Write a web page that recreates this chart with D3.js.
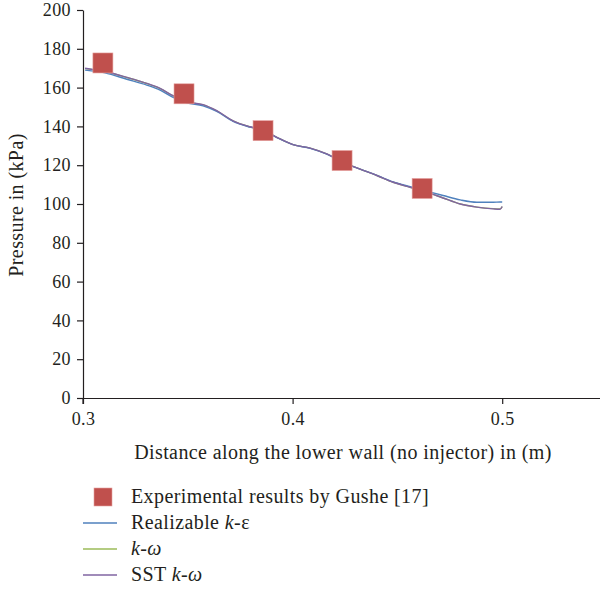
<!DOCTYPE html>
<html>
<head>
<meta charset="utf-8">
<script src="https://cdn.jsdelivr.net/npm/d3@7"></script>
<style>
  body { margin: 0; background: #fff; }
  svg text { font-family: "Liberation Serif", "DejaVu Serif", serif; fill: #231f20; letter-spacing: 0.4px; }
</style>
</head>
<body>
<svg id="chart" width="600" height="592"></svg>
<script>
  // experimental points
  var expX = [0.3095, 0.3482, 0.3859, 0.4236, 0.4618];
  var expY = [172.7, 156.8, 137.8, 122.4, 108.0];

  // simulation curves (shared x samples)
  var simX = [0.301, 0.3105, 0.3209, 0.3304, 0.3368, 0.343, 0.3495, 0.3573, 0.3638, 0.3716, 0.3797, 0.3859,
    0.3925, 0.4002, 0.4084, 0.4163, 0.4241, 0.4322, 0.4402, 0.448, 0.4561, 0.4641, 0.4718, 0.48, 0.4879, 0.4957, 0.499, 0.5];
  var realizableKE = [169.0, 167.6, 164.3, 161.3, 158.7, 155.0, 152.2, 150.6, 147.7, 142.6, 139.6, 137.9,
    134.2, 130.6, 128.7, 125.7, 121.5, 118.0, 114.8, 111.4, 108.9, 106.6, 104.4, 102.1, 100.9, 100.9, 101.0, 101.0];
  var kOmega = [169.8, 168.2, 165.2, 162.1, 159.5, 155.7, 152.6, 151.1, 148.0, 142.8, 139.7, 138.0,
    134.3, 130.6, 128.8, 125.8, 121.5, 118.0, 114.7, 111.2, 108.6, 106.1, 103.1, 100.0, 98.4, 97.6, 97.5, 98.7];
  var sstKOmega = [170.0, 168.3, 165.3, 162.2, 159.6, 155.8, 152.7, 151.2, 148.1, 142.9, 139.8, 138.1,
    134.4, 130.6, 128.8, 125.8, 121.5, 118.0, 114.7, 111.2, 108.6, 106.1, 103.1, 100.0, 98.4, 97.5, 97.3, 98.7];

  var xTicks = [0.3, 0.4, 0.5];
  var yTicks = [0, 20, 40, 60, 80, 100, 120, 140, 160, 180, 200];

  var legendLabels = ["Experimental results by Gushe [17]", "Realizable k-ε", "k-ω", "SST k-ω"];
  var colors = { exp: "#c0504d", ke: "#4f81bd", kw: "#9bbb59", sst: "#8064a2" };

  var fs = "20px";
  var tickFs = "18px";
  var ff = "'Liberation Serif', 'DejaVu Serif', serif";
  var svg = d3.select("#chart");

  var x = d3.scaleLinear().domain([0.3, 0.55]).range([83, 607]);
  var y = d3.scaleLinear().domain([0, 200]).range([398, 10]);

  // axes
  var xAxis = svg.append("g").attr("transform", "translate(0,398)")
    .call(d3.axisBottom(x).tickValues(xTicks).tickFormat(d3.format(".1f")).tickSize(6).tickSizeOuter(0));
  var yAxis = svg.append("g").attr("transform", "translate(83,0)")
    .call(d3.axisLeft(y).tickValues(yTicks).tickSize(6).tickSizeOuter(0));

  [xAxis, yAxis].forEach(function(a) {
    a.attr("font-family", ff).attr("font-size", tickFs);
    a.select(".domain").attr("stroke", "#231f20").attr("stroke-width", 1.2);
    a.selectAll(".tick line").attr("stroke", "#231f20").attr("stroke-width", 1.2);
    a.selectAll("text").style("font-family", ff).style("font-size", tickFs).attr("fill", "#231f20");
  });
  xAxis.selectAll("text").attr("y", 12).attr("dy", "0.85em");
  yAxis.selectAll("text").attr("x", -12);
  // extend y axis a little below zero like the original
  yAxis.append("line").attr("x1", 0).attr("x2", 0).attr("y1", 398).attr("y2", 404)
    .attr("stroke", "#231f20").attr("stroke-width", 1.2);

  // axis titles
  svg.append("text").attr("x", 343).attr("y", 459).attr("text-anchor", "middle")
    .style("font-size", fs).text("Distance along the lower wall (no injector) in (m)");
  svg.append("text").attr("transform", "translate(23,205) rotate(-90)").attr("text-anchor", "middle")
    .style("font-size", fs).text("Pressure in (kPa)");

  // lines
  var line = function(vals) {
    return d3.line().x(function(d, i) { return x(simX[i]); }).y(function(d) { return y(d); })
      .curve(d3.curveMonotoneX)(vals);
  };
  [[kOmega, colors.kw], [realizableKE, colors.ke], [sstKOmega, colors.sst]].forEach(function(s) {
    svg.append("path").attr("d", line(s[0])).attr("fill", "none")
      .attr("stroke", s[1]).attr("stroke-width", 1.4);
  });

  // experimental markers
  svg.append("g").selectAll("rect").data(expX).join("rect")
    .attr("x", function(d) { return x(d) - 10; })
    .attr("y", function(d, i) { return y(expY[i]) - 10; })
    .attr("width", 20).attr("height", 20)
    .attr("fill", colors.exp).attr("stroke", "#e4a09e").attr("stroke-width", 0.6);

  // legend
  var lg = svg.append("g");
  lg.append("rect").attr("x", 94).attr("y", 488).attr("width", 18).attr("height", 18)
    .attr("fill", colors.exp).attr("stroke", "#e4a09e").attr("stroke-width", 0.6);
  [colors.ke, colors.kw, colors.sst].forEach(function(c, i) {
    lg.append("line").attr("x1", 83).attr("x2", 117).attr("y1", 523 + i * 26).attr("y2", 523 + i * 26)
      .attr("stroke", c).attr("stroke-width", 1.4);
  });
  var ly = [503, 529, 555, 581];
  var legItems = [
    [[legendLabels[0], false]],
    [["Realizable ", false], ["k", true], ["-ε", false]],
    [["k", true], ["-", false], ["ω", true]],
    [["SST ", false], ["k", true], ["-", false], ["ω", true]]
  ];
  legItems.forEach(function(parts, i) {
    var t = lg.append("text").attr("x", 131).attr("y", ly[i]).style("font-size", fs);
    parts.forEach(function(p) {
      t.append("tspan").text(p[0]).style("font-style", p[1] ? "italic" : "normal");
    });
  });
</script>
</body>
</html>
